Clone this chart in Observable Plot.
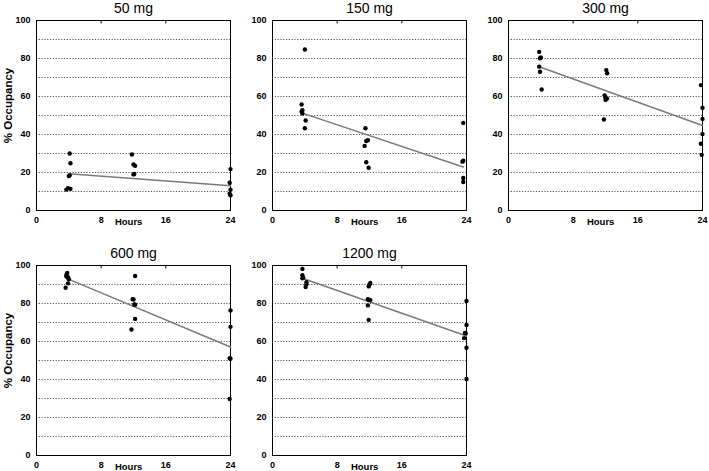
<!DOCTYPE html>
<html>
<head>
<meta charset="utf-8">
<script src="https://cdn.jsdelivr.net/npm/d3@7"></script>
<script src="https://cdn.jsdelivr.net/npm/@observablehq/plot@0.6"></script>
<style>
  html, body { margin: 0; padding: 0; background: #fff; overflow: hidden; }
  #wrap { position: relative; width: 709px; height: 471px; background: #fff; }
  #wrap svg { position: absolute; }
</style>
</head>
<body>
<div id="wrap"></div>
<script>
// Tick labels and gridlines
const xTicks = [0, 8, 16, 24];
const yTicks = [0, 20, 40, 60, 80, 100];
const gridY = [10, 20, 30, 40, 50, 60, 70, 80, 90];
const topTicks = [8, 16];
const doses = ["50 mg", "150 mg", "300 mg", "600 mg", "1200 mg"];

// 50 mg
const hours50 = [3.7, 3.9, 4.2, 4.0, 4.1, 4.1, 4.2, 11.8, 12.0, 12.2, 12.0, 12.1, 24.0, 23.9, 24.0, 23.9, 24.0];
const occ50   = [11.0, 11.8, 11.4, 18.1, 18.5, 30.0, 24.9, 29.5, 24.2, 23.5, 19.0, 19.2, 21.8, 14.6, 10.9, 8.8, 8.0];
const fitH50 = [4.0, 24.0];
const fitO50 = [19.3, 13.0];

// 150 mg
const hours150 = [4.0, 3.6, 3.7, 3.6, 3.7, 4.1, 4.0, 11.5, 11.6, 11.8, 11.4, 11.6, 11.9, 23.6, 23.6, 23.5, 23.6, 23.6];
const occ150   = [84.7, 55.8, 52.8, 52.1, 51.1, 47.4, 43.3, 43.3, 36.6, 37.0, 34.0, 25.4, 22.5, 46.1, 26.2, 25.7, 17.1, 15.0];
const fitH150 = [3.6, 23.6];
const fitO150 = [51.4, 22.9];

// 300 mg
const hours300 = [3.8, 4.0, 3.9, 3.8, 3.9, 4.1, 12.1, 12.2, 11.9, 12.0, 12.2, 12.0, 11.8, 23.8, 24.0, 24.0, 24.0, 23.8, 23.9];
const occ300   = [83.5, 80.5, 80.1, 75.7, 73.0, 63.7, 73.9, 72.2, 60.6, 59.6, 58.9, 58.2, 47.9, 66.0, 54.1, 48.2, 40.2, 35.1, 29.3];
const fitH300 = [3.8, 24.0];
const fitO300 = [75.7, 44.7];

// 600 mg
const hours600 = [3.8, 3.7, 3.9, 3.7, 4.0, 3.9, 3.6, 12.2, 11.9, 12.0, 12.1, 12.2, 12.2, 11.75, 24.0, 24.0, 23.9, 24.0, 23.9];
const occ600   = [96.1, 95.0, 93.8, 94.2, 92.8, 90.6, 88.3, 94.5, 82.3, 82.1, 79.5, 79.4, 71.9, 66.3, 76.3, 67.7, 51.2, 50.9, 29.7];
const fitH600 = [3.8, 24.0];
const fitO600 = [93.1, 57.1];

// 1200 mg
const hours1200 = [3.7, 3.7, 3.8, 3.7, 4.2, 4.2, 4.1, 12.1, 12.0, 11.9, 11.8, 12.1, 11.9, 11.8, 11.9, 24.0, 24.0, 23.8, 23.9, 23.7, 24.0, 24.0];
const occ1200   = [98.2, 94.9, 93.5, 93.3, 91.2, 90.1, 88.7, 90.8, 90.0, 89.0, 82.2, 81.8, 82.0, 79.0, 71.4, 81.3, 68.7, 64.5, 64.3, 61.8, 56.7, 40.3];
const fitH1200 = [3.7, 24.0];
const fitO1200 = [93.3, 62.9];

const panels = [
  {title: doses[0], h: hours50, o: occ50, fh: fitH50, fo: fitO50, left: 0, top: 0, col: 0},
  {title: doses[1], h: hours150, o: occ150, fh: fitH150, fo: fitO150, left: 236, top: 0, col: 1},
  {title: doses[2], h: hours300, o: occ300, fh: fitH300, fo: fitO300, left: 472, top: 0, col: 2},
  {title: doses[3], h: hours600, o: occ600, fh: fitH600, fo: fitO600, left: 0, top: 245, col: 0},
  {title: doses[4], h: hours1200, o: occ1200, fh: fitH1200, fo: fitO1200, left: 236, top: 245, col: 1}
];

const font = "'Liberation Sans', Arial, Helvetica, sans-serif";
const wrap = document.getElementById("wrap");

for (const p of panels) {
  const pts = p.h.map((h, i) => ({h, o: p.o[i]}));
  const fit = p.fh.map((h, i) => ({h, o: p.fo[i]}));
  const marks = [
    Plot.ruleY(gridY, {stroke: "#444", strokeWidth: 0.9, strokeDasharray: "1.2,1.6"}),
    Plot.ruleX(topTicks, {y1: 100, y2: 98.2, stroke: "#000", strokeWidth: 1}),
    Plot.frame({stroke: "#000", strokeWidth: 1}),
    Plot.axisX(xTicks, {tickSize: 0, tickPadding: 6, fontSize: 9, fontWeight: "bold", label: null}),
    Plot.axisY(yTicks, {tickSize: 0, tickPadding: 6, fontSize: 9, fontWeight: "bold", label: null}),
    Plot.text(["Hours"], {x: () => 11.4, frameAnchor: "bottom", dy: 11, fontSize: 9.5, fontWeight: "bold", lineAnchor: "middle"}),
    Plot.line(fit, {x: "h", y: "o", stroke: "#7a7a7a", strokeWidth: 1.5}),
    Plot.dot(pts, {x: "h", y: "o", r: 2.2, fill: "#000", stroke: null}),
    Plot.text([p.title], {frameAnchor: "top", dy: -12, fontSize: 14, fontWeight: "normal", lineAnchor: "middle", fill: "#000"})
  ];
  if (p.col === 0) {
    marks.push(Plot.text(["% Occupancy"], {frameAnchor: "left", dx: -28, dy: -10, rotate: -90, fontSize: 11.5, fontWeight: "bold", lineAnchor: "middle", textAnchor: "middle"}));
  }
  const chart = Plot.plot({
    width: 236,
    height: 236,
    marginLeft: 36,
    marginRight: 6,
    marginTop: 20,
    marginBottom: 26,
    x: {domain: [0, 24]},
    y: {domain: [0, 100]},
    style: {fontFamily: font, background: "transparent", color: "#000", overflow: "visible"},
    marks
  });
  chart.style.left = p.left + "px";
  chart.style.top = p.top + "px";
  wrap.appendChild(chart);
}
</script>
</body>
</html>
